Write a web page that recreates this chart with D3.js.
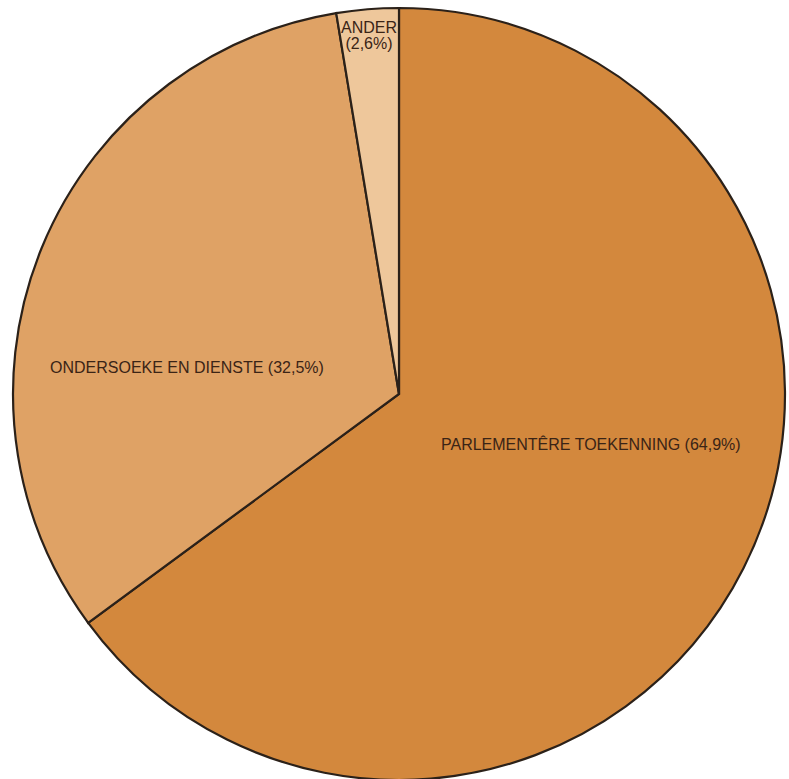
<!DOCTYPE html>
<html>
<head>
<meta charset="utf-8">
<script src="https://cdn.jsdelivr.net/npm/d3@7"></script>
<style>
  body { margin: 0; background: #fff; }
  svg text { font-family: "Liberation Sans", Arial, sans-serif; fill: #3a2416; }
</style>
</head>
<body>
<div id="chart"></div>
<script>
// slices, clockwise from 12 o'clock
var labels = ["PARLEMENTÊRE TOEKENNING", "ONDERSOEKE EN DIENSTE", "ANDER"]
var values = [64.9, 32.5, 2.6]
var colours = ["#d3883d", "#dfa265", "#eec79b"]

var width = 789, height = 779
var cx = 399, cy = 394, radius = 386

var svg = d3.select("#chart").append("svg")
    .attr("width", width)
    .attr("height", height)

var g = svg.append("g")
    .attr("transform", "translate(" + cx + "," + cy + ")")

var pie = d3.pie().sort(null).value(function(d){ return d; })
var arcs = pie(values)
var arc = d3.arc().innerRadius(0).outerRadius(radius)

g.selectAll("path")
    .data(arcs)
    .enter()
    .append("path")
      .attr("d", arc)
      .style("fill", function(d, i){ return colours[i]; })
      .style("stroke", "#2b2119")
      .style("stroke-width", 2.2)
      .style("stroke-linejoin", "miter")

// label spots (relative to the centre)
var spots = [
    {x: 42, y: 56, anchor: "start"},
    {x: -349, y: -21, anchor: "start"},
    {x: -30, y: -361, anchor: "middle"}
]

arcs.forEach(function(d, i){
    var pct = "(" + String(values[i]).replace(".", ",") + "%)"
    if(i === 2){
        g.append("text").attr("x", spots[i].x).attr("y", spots[i].y)
            .attr("text-anchor", "middle").style("font-size", "16px").text(labels[i])
        g.append("text").attr("x", spots[i].x).attr("y", spots[i].y + 16)
            .attr("text-anchor", "middle").style("font-size", "16px").text(pct)
    }else{
        g.append("text").attr("x", spots[i].x).attr("y", spots[i].y)
            .attr("text-anchor", spots[i].anchor).style("font-size", "16px")
            .text(labels[i] + " " + pct)
    }
})
</script>
</body>
</html>
